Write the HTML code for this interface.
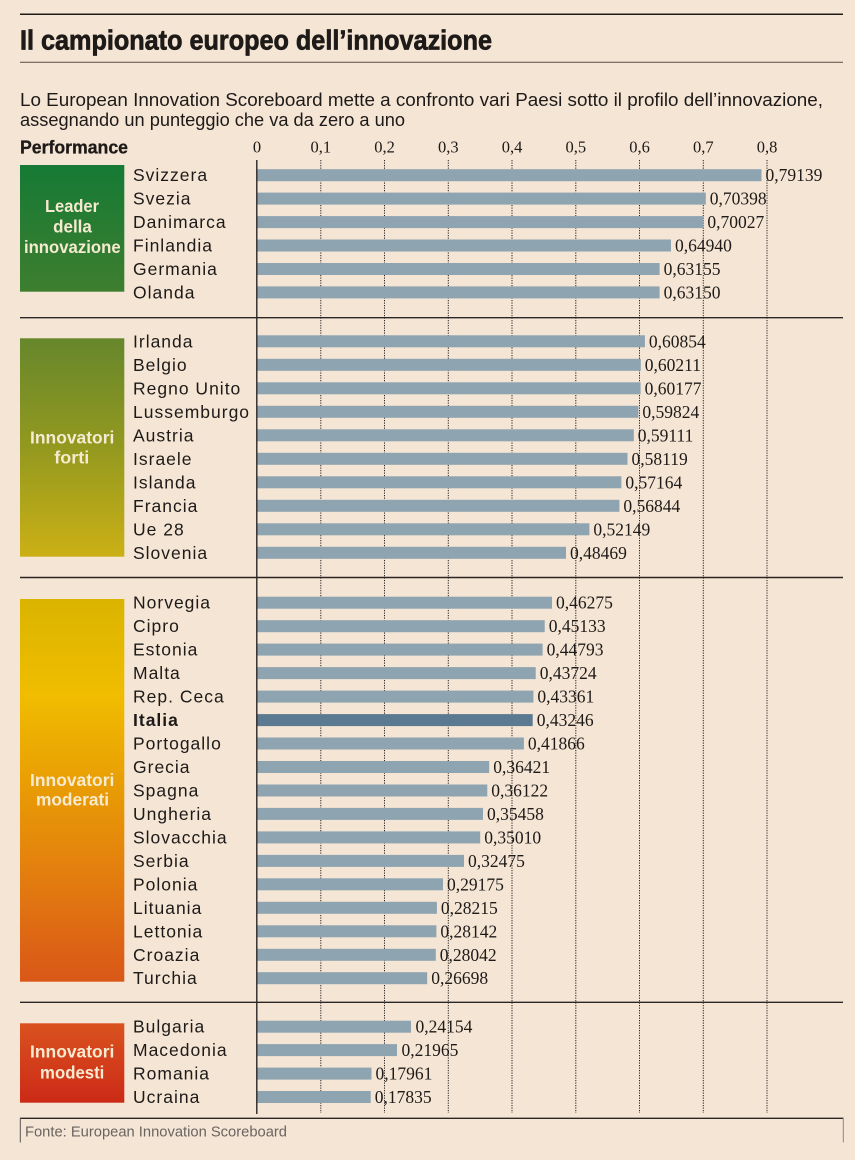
<!DOCTYPE html>
<html><head><meta charset="utf-8"><style>
html,body{margin:0;padding:0;background:#f4e5d5;}
svg{display:block;}
.c{font-family:"Liberation Sans",sans-serif;font-size:17.5px;fill:#1e1a18;letter-spacing:1px;}
.v{font-family:"Liberation Serif",serif;font-size:17.5px;fill:#1e1a18;}
.t{font-family:"Liberation Serif",serif;font-size:16.5px;fill:#1e1a18;text-anchor:middle;}
.b{font-family:"Liberation Sans",sans-serif;font-weight:bold;font-size:17.5px;fill:#f6ead0;}
.bar{fill:#8ea4b1;}
.g{stroke:#2a2624;stroke-width:1;stroke-dasharray:1.2 1.3;}
</style></head><body>
<svg width="855" height="1160" viewBox="0 0 855 1160" xmlns="http://www.w3.org/2000/svg">
<defs>
<linearGradient id="gL" x1="0" y1="0" x2="0" y2="1"><stop offset="0" stop-color="#157a35"/><stop offset="1" stop-color="#3e7e2f"/></linearGradient>
<linearGradient id="gF" x1="0" y1="0" x2="0" y2="1"><stop offset="0" stop-color="#66872c"/><stop offset="0.5" stop-color="#93991f"/><stop offset="1" stop-color="#cbb016"/></linearGradient>
<linearGradient id="gM" x1="0" y1="0" x2="0" y2="1"><stop offset="0" stop-color="#dab400"/><stop offset="0.25" stop-color="#f0bd00"/><stop offset="0.5" stop-color="#e89b05"/><stop offset="0.75" stop-color="#e27a10"/><stop offset="1" stop-color="#d95718"/></linearGradient>
<linearGradient id="gD" x1="0" y1="0" x2="0" y2="1"><stop offset="0" stop-color="#d9521f"/><stop offset="1" stop-color="#cc2a16"/></linearGradient>
</defs>
<rect x="0" y="0" width="855" height="1160" fill="#f4e5d5"/>

<line x1="20" y1="14.3" x2="843" y2="14.3" stroke="#1e1a18" stroke-width="1.5"/>
<text x="20" y="49.3" font-family="'Liberation Sans',sans-serif" font-weight="bold" font-size="28" fill="#1e1a18" stroke="#1e1a18" stroke-width="0.7" textLength="472" lengthAdjust="spacingAndGlyphs">Il campionato europeo dell’innovazione</text>
<line x1="20" y1="62.3" x2="843" y2="62.3" stroke="#5a4a42" stroke-width="1"/>

<text x="20" y="106" font-family="'Liberation Sans',sans-serif" font-size="18.5" fill="#1e1a18" textLength="803" lengthAdjust="spacingAndGlyphs">Lo European Innovation Scoreboard mette a confronto vari Paesi sotto il profilo dell’innovazione,</text>
<text x="20" y="126" font-family="'Liberation Sans',sans-serif" font-size="18.5" fill="#1e1a18" textLength="385" lengthAdjust="spacingAndGlyphs">assegnando un punteggio che va da zero a uno</text>
<text x="20" y="153.3" font-family="'Liberation Sans',sans-serif" font-weight="bold" font-size="18" fill="#1e1a18" stroke="#1e1a18" stroke-width="0.3" textLength="108" lengthAdjust="spacingAndGlyphs">Performance</text>

<text class="t" x="257" y="152.5">0</text>
<text class="t" x="320.8" y="152.5">0,1</text>
<text class="t" x="384.5" y="152.5">0,2</text>
<text class="t" x="448.3" y="152.5">0,3</text>
<text class="t" x="512" y="152.5">0,4</text>
<text class="t" x="575.8" y="152.5">0,5</text>
<text class="t" x="639.5" y="152.5">0,6</text>
<text class="t" x="703.3" y="152.5">0,7</text>
<text class="t" x="767" y="152.5">0,8</text>

<line class="g" x1="320.8" y1="160" x2="320.8" y2="1113"/>
<line class="g" x1="384.5" y1="160" x2="384.5" y2="1113"/>
<line class="g" x1="448.3" y1="160" x2="448.3" y2="1113"/>
<line class="g" x1="512" y1="160" x2="512" y2="1113"/>
<line class="g" x1="575.8" y1="160" x2="575.8" y2="1113"/>
<line class="g" x1="639.5" y1="160" x2="639.5" y2="1113"/>
<line class="g" x1="703.3" y1="160" x2="703.3" y2="1113"/>
<line class="g" x1="767" y1="160" x2="767" y2="1113"/>

<line x1="20" y1="317.7" x2="843" y2="317.7" stroke="#2a2624" stroke-width="1.4"/>
<line x1="20" y1="577.5" x2="843" y2="577.5" stroke="#2a2624" stroke-width="1.4"/>
<line x1="20" y1="1002.3" x2="843" y2="1002.3" stroke="#2a2624" stroke-width="1.4"/>

<line x1="256.8" y1="160" x2="256.8" y2="1114" stroke="#2a2624" stroke-width="1.4"/>

<rect x="20" y="165" width="104.3" height="126.7" fill="url(#gL)"/>
<text class="b" x="72" y="212" text-anchor="middle" textLength="54" lengthAdjust="spacingAndGlyphs">Leader</text>
<text class="b" x="72.5" y="232.3" text-anchor="middle" textLength="38.7" lengthAdjust="spacingAndGlyphs">della</text>
<text class="b" x="72.3" y="253" text-anchor="middle" textLength="96.7" lengthAdjust="spacingAndGlyphs">innovazione</text>

<rect x="20" y="338.3" width="104.3" height="218.4" fill="url(#gF)"/>
<text class="b" x="72.2" y="443.3" text-anchor="middle" textLength="84.3" lengthAdjust="spacingAndGlyphs">Innovatori</text>
<text class="b" x="71.8" y="463.3" text-anchor="middle" textLength="35" lengthAdjust="spacingAndGlyphs">forti</text>

<rect x="20" y="599" width="104.3" height="382.7" fill="url(#gM)"/>
<text class="b" x="72.2" y="786" text-anchor="middle" textLength="84.3" lengthAdjust="spacingAndGlyphs">Innovatori</text>
<text class="b" x="72.5" y="805.7" text-anchor="middle" textLength="73" lengthAdjust="spacingAndGlyphs">moderati</text>

<rect x="20" y="1023.3" width="104.3" height="79.4" fill="url(#gD)"/>
<text class="b" x="72.2" y="1057.7" text-anchor="middle" textLength="84.3" lengthAdjust="spacingAndGlyphs">Innovatori</text>
<text class="b" x="72.2" y="1078.3" text-anchor="middle" textLength="64.3" lengthAdjust="spacingAndGlyphs">modesti</text>

<rect class="bar" x="257.5" y="169.2" width="504" height="12"/><text class="c" x="133" y="181.2">Svizzera</text><text class="v" x="765.5" y="181.2">0,79139</text>
<rect class="bar" x="257.5" y="192.6" width="448.3" height="12"/><text class="c" x="133" y="204.6">Svezia</text><text class="v" x="709.8" y="204.6">0,70398</text>
<rect class="bar" x="257.5" y="216.1" width="445.9" height="12"/><text class="c" x="133" y="228.1">Danimarca</text><text class="v" x="707.4" y="228.1">0,70027</text>
<rect class="bar" x="257.5" y="239.5" width="413.5" height="12"/><text class="c" x="133" y="251.5">Finlandia</text><text class="v" x="675" y="251.5">0,64940</text>
<rect class="bar" x="257.5" y="263" width="402.1" height="12"/><text class="c" x="133" y="275">Germania</text><text class="v" x="663.6" y="275">0,63155</text>
<rect class="bar" x="257.5" y="286.4" width="402.1" height="12"/><text class="c" x="133" y="298.4">Olanda</text><text class="v" x="663.6" y="298.4">0,63150</text>

<rect class="bar" x="257.5" y="335.3" width="387.4" height="12"/><text class="c" x="133" y="347.3">Irlanda</text><text class="v" x="648.9" y="347.3">0,60854</text>
<rect class="bar" x="257.5" y="358.8" width="383.3" height="12"/><text class="c" x="133" y="370.8">Belgio</text><text class="v" x="644.8" y="370.8">0,60211</text>
<rect class="bar" x="257.5" y="382.3" width="383.1" height="12"/><text class="c" x="133" y="394.3">Regno Unito</text><text class="v" x="644.6" y="394.3">0,60177</text>
<rect class="bar" x="257.5" y="405.8" width="380.9" height="12"/><text class="c" x="133" y="417.8">Lussemburgo</text><text class="v" x="642.4" y="417.8">0,59824</text>
<rect class="bar" x="257.5" y="429.3" width="376.3" height="12"/><text class="c" x="133" y="441.3">Austria</text><text class="v" x="637.8" y="441.3">0,59111</text>
<rect class="bar" x="257.5" y="452.8" width="370" height="12"/><text class="c" x="133" y="464.8">Israele</text><text class="v" x="631.5" y="464.8">0,58119</text>
<rect class="bar" x="257.5" y="476.3" width="363.9" height="12"/><text class="c" x="133" y="488.3">Islanda</text><text class="v" x="625.4" y="488.3">0,57164</text>
<rect class="bar" x="257.5" y="499.8" width="361.9" height="12"/><text class="c" x="133" y="511.8">Francia</text><text class="v" x="623.4" y="511.8">0,56844</text>
<rect class="bar" x="257.5" y="523.3" width="331.9" height="12"/><text class="c" x="133" y="535.3">Ue 28</text><text class="v" x="593.4" y="535.3">0,52149</text>
<rect class="bar" x="257.5" y="546.8" width="308.5" height="12"/><text class="c" x="133" y="558.8">Slovenia</text><text class="v" x="570" y="558.8">0,48469</text>

<rect class="bar" x="257.5" y="596.7" width="294.5" height="12"/><text class="c" x="133" y="608.7">Norvegia</text><text class="v" x="556" y="608.7">0,46275</text>
<rect class="bar" x="257.5" y="620.2" width="287.2" height="12"/><text class="c" x="133" y="632.2">Cipro</text><text class="v" x="548.7" y="632.2">0,45133</text>
<rect class="bar" x="257.5" y="643.6" width="285.1" height="12"/><text class="c" x="133" y="655.6">Estonia</text><text class="v" x="546.6" y="655.6">0,44793</text>
<rect class="bar" x="257.5" y="667.1" width="278.2" height="12"/><text class="c" x="133" y="679.1">Malta</text><text class="v" x="539.7" y="679.1">0,43724</text>
<rect class="bar" x="257.5" y="690.6" width="275.9" height="12"/><text class="c" x="133" y="702.6">Rep. Ceca</text><text class="v" x="537.4" y="702.6">0,43361</text>
<rect x="257.5" y="714.1" width="275.2" height="12" fill="#5b7a91"/><text class="c" x="133" y="726.1" font-weight="bold" letter-spacing="0.6">Italia</text><text class="v" x="536.7" y="726.1">0,43246</text>
<rect class="bar" x="257.5" y="737.5" width="266.4" height="12"/><text class="c" x="133" y="749.5">Portogallo</text><text class="v" x="527.9" y="749.5">0,41866</text>
<rect class="bar" x="257.5" y="761" width="231.7" height="12"/><text class="c" x="133" y="773">Grecia</text><text class="v" x="493.2" y="773">0,36421</text>
<rect class="bar" x="257.5" y="784.5" width="229.8" height="12"/><text class="c" x="133" y="796.5">Spagna</text><text class="v" x="491.3" y="796.5">0,36122</text>
<rect class="bar" x="257.5" y="807.9" width="225.5" height="12"/><text class="c" x="133" y="819.9">Ungheria</text><text class="v" x="487" y="819.9">0,35458</text>
<rect class="bar" x="257.5" y="831.4" width="222.7" height="12"/><text class="c" x="133" y="843.4">Slovacchia</text><text class="v" x="484.2" y="843.4">0,35010</text>
<rect class="bar" x="257.5" y="854.9" width="206.5" height="12"/><text class="c" x="133" y="866.9">Serbia</text><text class="v" x="468" y="866.9">0,32475</text>
<rect class="bar" x="257.5" y="878.3" width="185.5" height="12"/><text class="c" x="133" y="890.3">Polonia</text><text class="v" x="447" y="890.3">0,29175</text>
<rect class="bar" x="257.5" y="901.8" width="179.4" height="12"/><text class="c" x="133" y="913.8">Lituania</text><text class="v" x="440.9" y="913.8">0,28215</text>
<rect class="bar" x="257.5" y="925.3" width="178.9" height="12"/><text class="c" x="133" y="937.3">Lettonia</text><text class="v" x="440.4" y="937.3">0,28142</text>
<rect class="bar" x="257.5" y="948.8" width="178.3" height="12"/><text class="c" x="133" y="960.8">Croazia</text><text class="v" x="439.8" y="960.8">0,28042</text>
<rect class="bar" x="257.5" y="972.2" width="169.7" height="12"/><text class="c" x="133" y="984.2">Turchia</text><text class="v" x="431.2" y="984.2">0,26698</text>

<rect class="bar" x="257.5" y="1020.7" width="153.5" height="12"/><text class="c" x="133" y="1032.7">Bulgaria</text><text class="v" x="415.5" y="1032.7">0,24154</text>
<rect class="bar" x="257.5" y="1044.1" width="139.5" height="12"/><text class="c" x="133" y="1056.1">Macedonia</text><text class="v" x="401.5" y="1056.1">0,21965</text>
<rect class="bar" x="257.5" y="1067.6" width="114" height="12"/><text class="c" x="133" y="1079.6">Romania</text><text class="v" x="375.5" y="1079.6">0,17961</text>
<rect class="bar" x="257.5" y="1091" width="113.2" height="12"/><text class="c" x="133" y="1103">Ucraina</text><text class="v" x="374.7" y="1103">0,17835</text>

<line x1="20" y1="1118.3" x2="843.5" y2="1118.3" stroke="#2a2624" stroke-width="1.3"/>
<line x1="20.3" y1="1118" x2="20.3" y2="1142.5" stroke="#555" stroke-width="1"/>
<line x1="843.3" y1="1118" x2="843.3" y2="1142.5" stroke="#888" stroke-width="1"/>
<text x="25" y="1136.5" font-family="'Liberation Sans',sans-serif" font-size="15" fill="#6a6460" textLength="262" lengthAdjust="spacingAndGlyphs">Fonte: European Innovation Scoreboard</text>
</svg>
</body></html>
